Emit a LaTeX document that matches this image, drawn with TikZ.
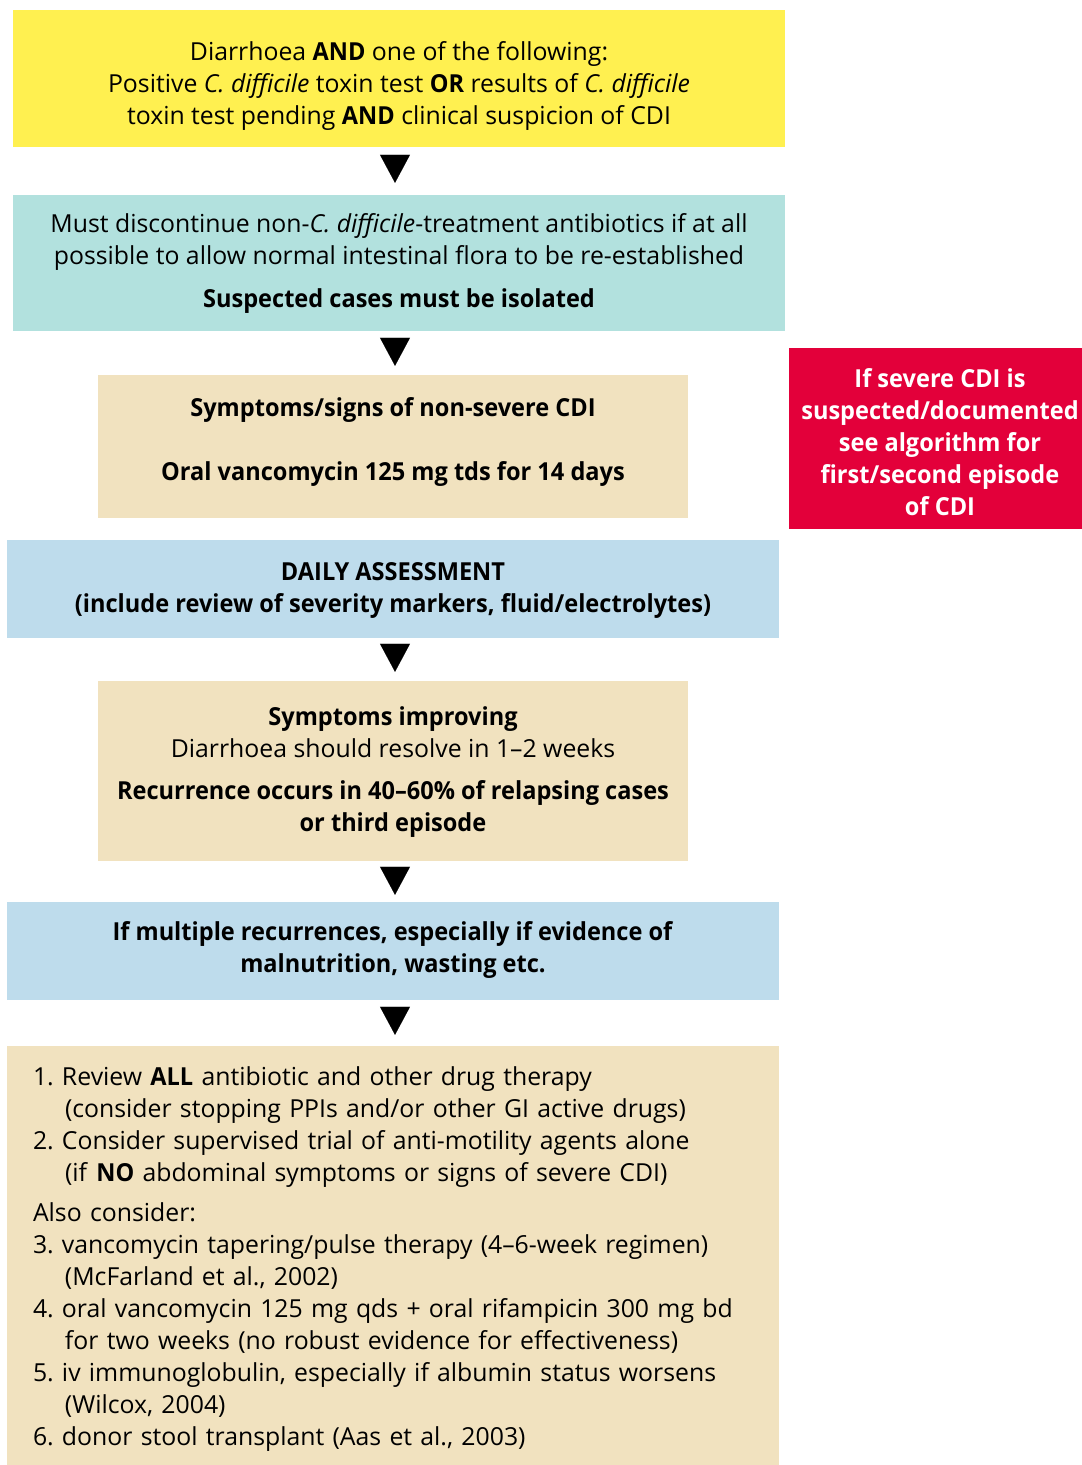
\documentclass[tikz,border=0pt]{standalone}
\usepackage{fontspec}
\setmainfont{Open Sans}[BoldFeatures={FakeStretch=0.95}]
\usetikzlibrary{arrows.meta}

\definecolor{critYellow}{HTML}{FFF050}
\definecolor{stopTeal}{HTML}{B2E1DE}
\definecolor{careBeige}{HTML}{F1E2BF}
\definecolor{assessBlue}{HTML}{BEDCEC}
\definecolor{severeRed}{HTML}{E3003A}

\begin{document}
\begin{tikzpicture}[x=1pt,y=-1pt,
  panel/.style={inner sep=0pt, draw=none},
  txt/.style={inner sep=0pt, align=center, font=\fontsize{24.8}{32}\selectfont},
  tri/.style={-{Triangle[width=30pt,length=28pt]}, line width=0.1pt, shorten <=8pt, shorten >=12pt}]
\useasboundingbox (0,0) rectangle (1082,1465);
\coordinate (mid) at (395,0);

% coloured panels
\node[panel, fill=critYellow, minimum width=772pt, minimum height=137pt] (crit) at (399,78.5) {};
\node[panel, fill=stopTeal, minimum width=772pt, minimum height=136pt] (stop) at (399,263) {};
\node[panel, fill=careBeige, minimum width=590pt, minimum height=143pt] (mild) at (393,446.5) {};
\node[panel, fill=severeRed, minimum width=293pt, minimum height=181pt] (severe) at (935.5,438.5) {};
\node[panel, fill=assessBlue, minimum width=772pt, minimum height=98pt] (daily) at (393,589) {};
\node[panel, fill=careBeige, minimum width=590pt, minimum height=180pt] (better) at (393,771) {};
\node[panel, fill=assessBlue, minimum width=772pt, minimum height=98pt] (recur) at (393,951) {};
\node[panel, fill=careBeige, minimum width=772pt, minimum height=419pt] (options) at (393,1255.5) {};

% texts
\node[txt] (critText) at (399,85.5)
  {Diarrhoea \textbf{AND} one of the following:\\
   Positive \textit{C.~difficile} toxin test \textbf{OR} results of \textit{C.~difficile}\\
   toxin test pending \textbf{AND} clinical suspicion of CDI};

\node[txt] (stopText) at (399,263)
  {Must discontinue non-\textit{C.~difficile}-treatment antibiotics if at all\\
   possible to allow normal intestinal flora to be re-established\\[11pt]
   \textbf{Suspected cases must be isolated}};

\node[txt] (mildText) at (393,441.5)
  {\textbf{Symptoms/signs of non-severe CDI}\\[32pt]
   \textbf{Oral vancomycin 125 mg tds for 14 days}};

\node[txt, text=white] (severeText) at (940,442.5)
  {\textbf{If severe CDI is}\\
   \textbf{suspected/documented}\\
   \textbf{see algorithm for}\\
   \textbf{first/second episode}\\
   \textbf{of CDI}};

\node[txt] (dailyText) at (393,590)
  {\textbf{DAILY ASSESSMENT}\\
   \textbf{(include review of severity markers, fluid/electrolytes)}};

\node[txt] (betterText) at (393,772)
  {\textbf{Symptoms improving}\\
   Diarrhoea should resolve in 1--2 weeks\\[10pt]
   \textbf{Recurrence occurs in 40--60\% of relapsing cases}\\
   \textbf{or third episode}};

\node[txt] (recurText) at (393,950)
  {\textbf{If multiple recurrences, especially if evidence of}\\
   \textbf{malnutrition, wasting etc.}};

\node[txt, align=left, text width=720pt] (optionsText) at (393,1259.5)
  {\makebox[29pt][l]{1.}Review \textbf{ALL} antibiotic and other drug therapy\\
   \hspace*{32pt}(consider stopping PPIs and/or other GI active drugs)\\
   \makebox[29pt][l]{2.}Consider supervised trial of anti-motility agents alone\\
   \hspace*{32pt}(if \textbf{NO} abdominal symptoms or signs of severe CDI)\\[8pt]
   Also consider:\\
   \makebox[29pt][l]{3.}vancomycin tapering/pulse therapy (4--6-week regimen)\\
   \hspace*{32pt}(McFarland et al., 2002)\\
   \makebox[29pt][l]{4.}oral vancomycin 125 mg qds + oral rifampicin 300 mg bd\\
   \hspace*{32pt}for two weeks (no robust evidence for effectiveness)\\
   \makebox[29pt][l]{5.}iv immunoglobulin, especially if albumin status worsens\\
   \hspace*{32pt}(Wilcox, 2004)\\
   \makebox[29pt][l]{6.}donor stool transplant (Aas et al., 2003)};

% arrows
\draw[tri] (crit.south -| mid) -- (stop.north -| mid);
\draw[tri, shorten <=7pt, shorten >=9pt] (stop.south -| mid) -- (mild.north -| mid);
\draw[tri, shorten <=7pt, shorten >=9pt] (daily.south -| mid) -- (better.north -| mid);
\draw[tri, shorten <=7pt, shorten >=7pt] (better.south -| mid) -- (recur.north -| mid);
\draw[tri, shorten <=8pt, shorten >=11pt] (recur.south -| mid) -- (options.north -| mid);
\end{tikzpicture}
\end{document}
